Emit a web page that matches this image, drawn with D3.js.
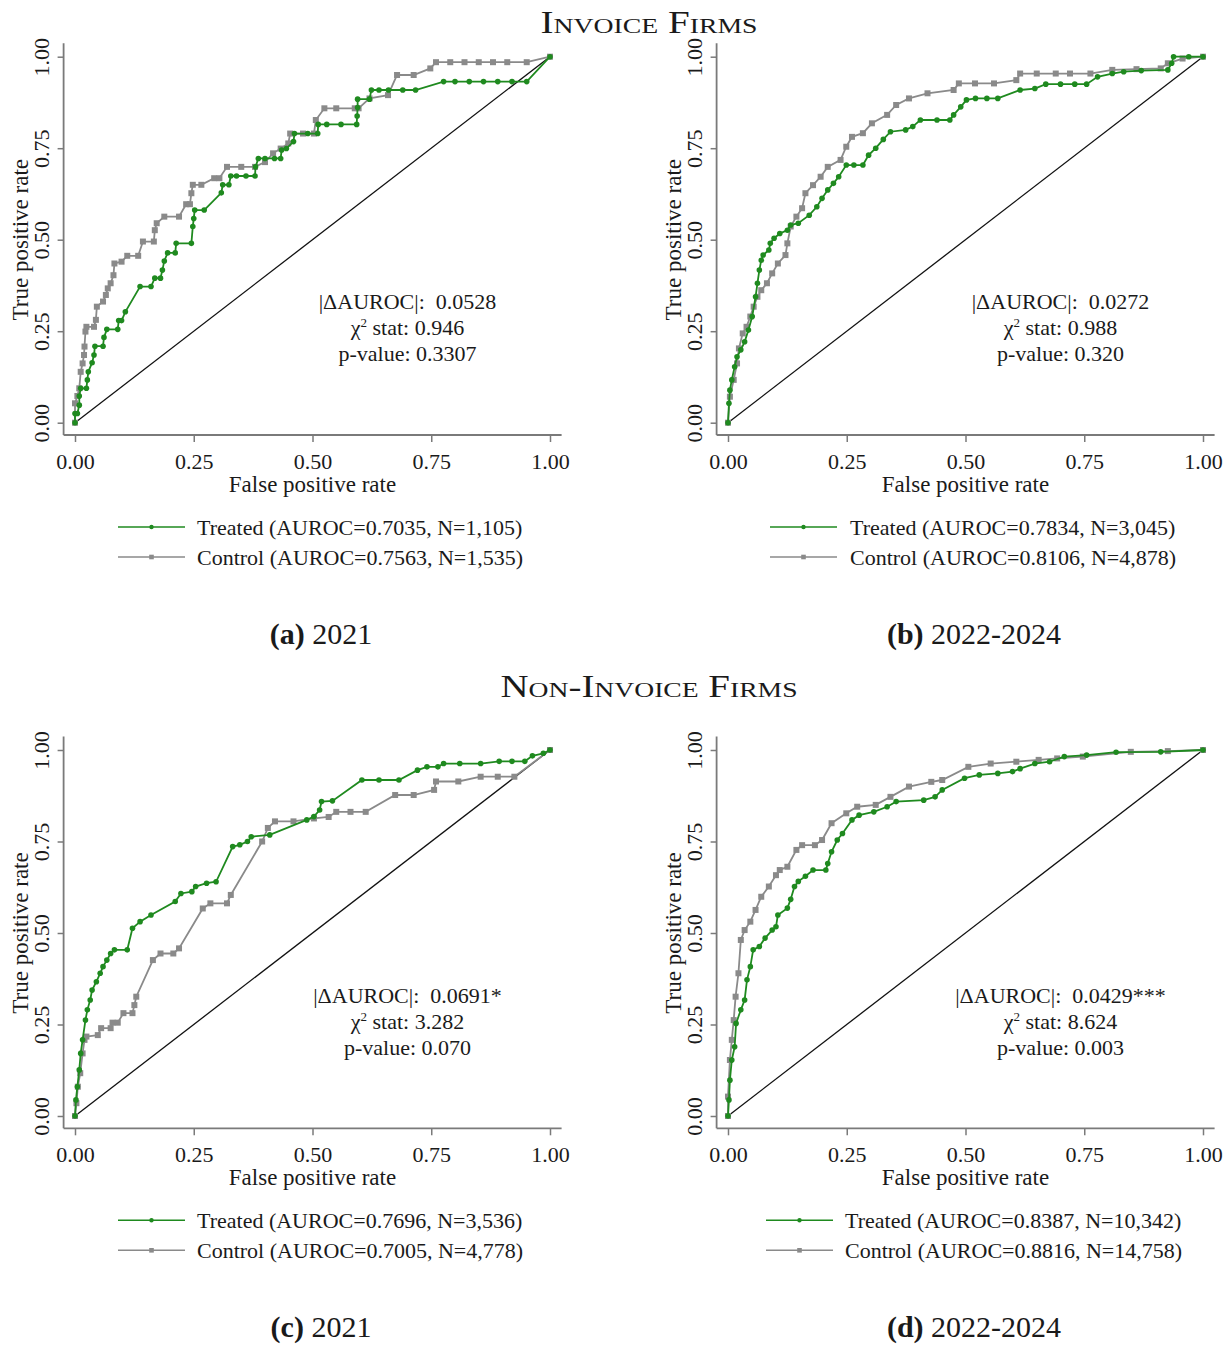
<!DOCTYPE html>
<html><head><meta charset="utf-8">
<script src="https://cdn.jsdelivr.net/npm/d3@7"></script>
<style>
body{margin:0;background:#fff}
text{font-family:"Liberation Serif","Times New Roman",serif;fill:#1a1a1a}
</style>
</head><body>
<svg id="chart" width="1231" height="1346"></svg>
<script>
// ---------- DATA ----------
const sectionTitles = ["Invoice Firms", "Non-Invoice Firms"];
const captionLetters = ["(a)", "(b)", "(c)", "(d)"];
const captionYears = ["2021", "2022-2024", "2021", "2022-2024"];
const tickValues = [0, 0.25, 0.5, 0.75, 1];
const tickLabels = ["0.00", "0.25", "0.50", "0.75", "1.00"];
const xTitle = "False positive rate";
const yTitle = "True positive rate";
const deltaAuroc = ["0.0528", "0.0272", "0.0691*", "0.0429***"];
const chi2Stat = ["0.946", "0.988", "3.282", "8.624"];
const pValues = ["0.3307", "0.320", "0.070", "0.003"];
const treatedLegend = ["Treated (AUROC=0.7035, N=1,105)", "Treated (AUROC=0.7834, N=3,045)",
                       "Treated (AUROC=0.7696, N=3,536)", "Treated (AUROC=0.8387, N=10,342)"];
const controlLegend = ["Control (AUROC=0.7563, N=1,535)", "Control (AUROC=0.8106, N=4,878)",
                       "Control (AUROC=0.7005, N=4,778)", "Control (AUROC=0.8816, N=14,758)"];

// ROC points [false positive rate, true positive rate]
const treatedA = [[0,0],[0,.025],[.005,.025],[.009,.048],[.009,.073],[.012,.094],[.024,.094],[.026,.117],[.028,.139],[.036,.164],[.04,.185],[.042,.209],[.059,.209],[.061,.233],[.067,.255],[.09,.255],[.092,.279],[.098,.279],[.106,.303],[.137,.372],[.16,.372],[.168,.395],[.18,.395],[.184,.417],[.188,.442],[.195,.464],[.211,.464],[.213,.49],[.245,.49],[.248,.536],[.25,.558],[.252,.581],[.272,.581],[.308,.628],[.311,.65],[.324,.65],[.328,.674],[.34,.674],[.36,.674],[.379,.674],[.38,.699],[.386,.722],[.40,.722],[.42,.722],[.433,.722],[.435,.745],[.445,.749],[.46,.768],[.462,.79],[.49,.79],[.511,.79],[.512,.815],[.53,.815],[.56,.815],[.593,.815],[.594,.838],[.595,.861],[.595,.884],[.62,.884],[.624,.909],[.64,.909],[.66,.909],[.69,.909],[.717,.909],[.776,.932],[.80,.932],[.83,.932],[.86,.932],[.89,.932],[.92,.932],[.951,.932],[1,1]];
const controlA = [[0,0],[0,.053],[.005,.073],[.009,.094],[.012,.139],[.016,.162],[.019,.185],[.02,.208],[.022,.249],[.024,.262],[.04,.262],[.044,.281],[.046,.317],[.059,.331],[.065,.349],[.069,.367],[.075,.381],[.081,.403],[.083,.435],[.098,.44],[.11,.456],[.133,.456],[.143,.495],[.166,.495],[.168,.526],[.172,.545],[.188,.563],[.219,.563],[.234,.597],[.242,.597],[.245,.627],[.248,.65],[.266,.65],[.293,.668],[.304,.668],[.32,.699],[.35,.699],[.379,.699],[.40,.712],[.417,.736],[.433,.749],[.449,.763],[.453,.79],[.48,.79],[.503,.79],[.507,.827],[.525,.859],[.55,.859],[.589,.859],[.597,.859],[.62,.886],[.659,.895],[.678,.95],[.713,.95],[.748,.968],[.76,.985],[.79,.985],[.82,.985],[.85,.985],[.88,.985],[.91,.985],[.951,.985],[1,1]];

const treatedB = [[0,0],[.002,.053],[.004,.089],[.008,.117],[.014,.153],[.019,.18],[.027,.199],[.035,.221],[.043,.253],[.051,.29],[.058,.344],[.062,.381],[.066,.417],[.07,.444],[.074,.458],[.086,.472],[.089,.49],[.097,.504],[.109,.517],[.125,.526],[.132,.54],[.148,.545],[.171,.567],[.187,.59],[.198,.613],[.21,.636],[.222,.654],[.233,.672],[.249,.704],[.265,.704],[.284,.704],[.296,.731],[.311,.75],[.327,.774],[.342,.795],[.374,.8],[.389,.809],[.405,.827],[.44,.827],[.467,.827],[.475,.841],[.49,.863],[.502,.882],[.521,.886],[.545,.886],[.568,.886],[.615,.909],[.646,.913],[.669,.925],[.70,.925],[.73,.925],[.755,.925],[.778,.945],[.809,.954],[.833,.959],[.87,.962],[.926,.964],[.934,.982],[.938,1],[.97,1],[1,1]];
const controlB = [[0,0],[.004,.071],[.012,.117],[.019,.162],[.023,.203],[.031,.244],[.039,.262],[.047,.29],[.054,.317],[.062,.344],[.07,.362],[.082,.381],[.093,.408],[.105,.435],[.121,.458],[.125,.49],[.132,.536],[.144,.563],[.156,.586],[.163,.627],[.179,.649],[.195,.672],[.21,.699],[.237,.718],[.249,.754],[.261,.781],[.284,.791],[.303,.818],[.335,.841],[.354,.868],[.381,.886],[.42,.9],[.475,.909],[.486,.927],[.52,.927],[.56,.927],[.607,.936],[.615,.954],[.65,.954],[.69,.954],[.72,.954],[.763,.954],[.809,.964],[.86,.966],[.911,.968],[.926,.982],[.957,.995],[1,1]];

const treatedC = [[0,0],[.002,.044],[.005,.08],[.009,.126],[.012,.171],[.016,.208],[.022,.262],[.026,.29],[.032,.317],[.036,.344],[.045,.367],[.053,.39],[.059,.408],[.067,.426],[.075,.444],[.083,.454],[.11,.454],[.121,.513],[.137,.531],[.16,.549],[.211,.586],[.223,.608],[.246,.613],[.254,.627],[.277,.636],[.297,.64],[.332,.736],[.347,.741],[.363,.75],[.371,.763],[.41,.768],[.488,.809],[.503,.818],[.515,.836],[.519,.859],[.542,.861],[.604,.918],[.64,.918],[.682,.918],[.721,.945],[.741,.954],[.764,.954],[.776,.963],[.81,.963],[.854,.963],[.893,.969],[.92,.969],[.947,.969],[.963,.984],[.986,.991],[1,1]];
const controlC = [[0,0],[.003,.035],[.006,.08],[.011,.117],[.016,.171],[.02,.208],[.024,.217],[.048,.221],[.055,.24],[.075,.24],[.079,.255],[.09,.255],[.102,.281],[.121,.281],[.125,.303],[.129,.326],[.164,.426],[.18,.444],[.207,.444],[.219,.458],[.269,.567],[.285,.581],[.32,.581],[.328,.604],[.394,.75],[.406,.787],[.421,.805],[.46,.805],[.503,.813],[.534,.817],[.55,.831],[.58,.831],[.612,.831],[.674,.877],[.713,.877],[.756,.891],[.76,.914],[.807,.914],[.854,.927],[.89,.927],[.925,.927],[1,1]];

const treatedD = [[0,0],[.002,.044],[.004,.098],[.008,.153],[.014,.189],[.017,.253],[.027,.29],[.035,.317],[.04,.372],[.047,.408],[.053,.454],[.066,.463],[.078,.486],[.093,.508],[.101,.517],[.105,.549],[.125,.568],[.132,.592],[.14,.627],[.148,.641],[.163,.655],[.179,.672],[.206,.672],[.21,.69],[.218,.722],[.23,.754],[.241,.772],[.261,.809],[.276,.822],[.307,.831],[.335,.845],[.354,.859],[.412,.863],[.436,.872],[.451,.891],[.498,.923],[.529,.932],[.568,.936],[.599,.941],[.615,.949],[.646,.963],[.677,.968],[.708,.982],[.755,.986],[.817,.994],[.911,.995],[1,1]];
const controlD = [[0,0],[0,.053],[.004,.153],[.008,.208],[.012,.262],[.016,.326],[.022,.39],[.027,.481],[.035,.508],[.047,.531],[.058,.563],[.07,.599],[.086,.627],[.101,.658],[.109,.672],[.125,.681],[.144,.727],[.156,.74],[.183,.74],[.198,.754],[.218,.8],[.249,.827],[.272,.845],[.311,.85],[.342,.872],[.381,.9],[.428,.913],[.451,.918],[.506,.954],[.553,.963],[.607,.968],[.654,.973],[.693,.977],[.747,.982],[.848,.995],[.926,.997],[1,1]];

const treatedSeries = [treatedA, treatedB, treatedC, treatedD];
const controlSeries = [controlA, controlB, controlC, controlD];

// ---------- LAYOUT / STYLE ----------
const GREEN = "#1f8a1f", GRAY = "#8a8a8a", AXIS = "#7a7a7a";
const colX = [75, 728];
const rowY = [{top: 56.7, bottom: 422.7}, {top: 750, bottom: 1116}];
const plotW = 475;
const legendLayout = [
  {lx1: 118, lx2: 185, tx: 197}, {lx1: 770, lx2: 837, tx: 850},
  {lx1: 118, lx2: 185, tx: 197}, {lx1: 766, lx2: 833, tx: 845}];
const captionX = [321, 974];

const svg = d3.select("#chart");

// section titles
[33, 697].forEach((yy, i) => {
  svg.append("text").attr("x", 649).attr("y", yy)
    .attr("text-anchor", "middle")
    .style("font-variant", "small-caps")
    .style("font-size", "31px")
    .attr("textLength", i === 0 ? 217 : 297)
    .attr("lengthAdjust", "spacingAndGlyphs")
    .text(sectionTitles[i]);
});

for (let p = 0; p < 4; p++) {
  const col = p % 2, row = Math.floor(p / 2);
  const x0 = colX[col], yt = rowY[row].top, yb = rowY[row].bottom;
  const x = d3.scaleLinear().domain([0, 1]).range([x0, x0 + plotW]);
  const y = d3.scaleLinear().domain([0, 1]).range([yb, yt]);
  const g = svg.append("g");
  const axX = x0 - 11.4, axY = yb + 12.3;

  // axis frame
  g.append("line").attr("x1", axX).attr("x2", axX).attr("y1", yt - 13.4).attr("y2", axY)
    .attr("stroke", AXIS).attr("stroke-width", 1.8);
  g.append("line").attr("x1", axX).attr("x2", x0 + plotW + 11.6).attr("y1", axY).attr("y2", axY)
    .attr("stroke", AXIS).attr("stroke-width", 1.8);

  const xa = g.append("g").attr("transform", `translate(0,${axY})`)
    .call(d3.axisBottom(x).tickValues(tickValues).tickFormat((d, i) => tickLabels[i]).tickSize(7));
  xa.select(".domain").remove();
  xa.selectAll("line").attr("stroke", AXIS).attr("stroke-width", 1.5);
  xa.selectAll("text").attr("y", 34).attr("dy", 0).style("font-size", "22px")
    .attr("fill", "#1a1a1a").style("font-family", '"Liberation Serif",serif');

  const ya = g.append("g").attr("transform", `translate(${axX},0)`)
    .call(d3.axisLeft(y).tickValues(tickValues).tickFormat((d, i) => tickLabels[i]).tickSize(6));
  ya.select(".domain").remove();
  ya.selectAll("line").attr("stroke", AXIS).attr("stroke-width", 1.5);
  ya.selectAll("text").attr("x", 0).attr("y", 0).attr("dy", 0)
    .attr("transform", "translate(-14.2,0) rotate(-90)")
    .attr("text-anchor", "middle").style("font-size", "22px")
    .attr("fill", "#1a1a1a").style("font-family", '"Liberation Serif",serif');

  // axis titles
  g.append("text").attr("x", (x(0) + x(1)) / 2).attr("y", axY + 57)
    .attr("text-anchor", "middle").style("font-size", "23px").text(xTitle);
  g.append("text").attr("transform", `translate(${axX - 35.5},${(yt + yb) / 2}) rotate(-90)`)
    .attr("text-anchor", "middle").style("font-size", "23px").text(yTitle);

  // diagonal reference
  g.append("line").attr("x1", x(0)).attr("y1", y(0)).attr("x2", x(1)).attr("y2", y(1))
    .attr("stroke", "#111").attr("stroke-width", 1.3);

  const line = d3.line().x(d => x(d[0])).y(d => y(d[1]));
  // control (gray squares)
  g.append("path").datum(controlSeries[p]).attr("d", line)
    .attr("fill", "none").attr("stroke", GRAY).attr("stroke-width", 1.8);
  g.selectAll(".sq").data(controlSeries[p]).enter().append("rect")
    .attr("x", d => x(d[0]) - 3).attr("y", d => y(d[1]) - 3)
    .attr("width", 6).attr("height", 6).attr("fill", GRAY);
  // treated (green circles)
  g.append("path").datum(treatedSeries[p]).attr("d", line)
    .attr("fill", "none").attr("stroke", GREEN).attr("stroke-width", 1.8);
  g.selectAll(".ci").data(treatedSeries[p]).enter().append("circle")
    .attr("cx", d => x(d[0])).attr("cy", d => y(d[1])).attr("r", 2.8).attr("fill", GREEN);

  // annotation
  const ax = x(0.70);
  const ay = yb - 113.5;
  const t1 = g.append("text").attr("x", ax).attr("y", ay).attr("text-anchor", "middle").style("font-size", "22px");
  t1.text("|\u0394AUROC|:\u00a0\u00a0" + deltaAuroc[p]);
  const t2 = g.append("text").attr("x", ax).attr("y", ay + 26).attr("text-anchor", "middle").style("font-size", "22px");
  t2.append("tspan").text("\u03c7");
  t2.append("tspan").attr("dy", -8).style("font-size", "13px").text("2");
  t2.append("tspan").attr("dy", 8).text(" stat: " + chi2Stat[p]);
  g.append("text").attr("x", ax).attr("y", ay + 52).attr("text-anchor", "middle").style("font-size", "22px")
    .text("p-value: " + pValues[p]);

  // legend
  const L = legendLayout[p];
  const ly1 = axY + 92, ly2 = axY + 122;
  g.append("line").attr("x1", L.lx1).attr("x2", L.lx2).attr("y1", ly1).attr("y2", ly1)
    .attr("stroke", GREEN).attr("stroke-width", 1.6);
  g.append("circle").attr("cx", (L.lx1 + L.lx2) / 2).attr("cy", ly1).attr("r", 2.2).attr("fill", GREEN);
  g.append("text").attr("x", L.tx).attr("y", ly1 + 8).style("font-size", "22px").text(treatedLegend[p]);
  g.append("line").attr("x1", L.lx1).attr("x2", L.lx2).attr("y1", ly2).attr("y2", ly2)
    .attr("stroke", GRAY).attr("stroke-width", 1.6);
  g.append("rect").attr("x", (L.lx1 + L.lx2) / 2 - 2.3).attr("y", ly2 - 2.3).attr("width", 4.6).attr("height", 4.6).attr("fill", GRAY);
  g.append("text").attr("x", L.tx).attr("y", ly2 + 8).style("font-size", "22px").text(controlLegend[p]);

  // caption
  const cap = g.append("text").attr("x", captionX[col]).attr("y", axY + 209)
    .attr("text-anchor", "middle").style("font-size", "30px");
  cap.append("tspan").style("font-weight", "bold").text(captionLetters[p]);
  cap.append("tspan").text("\u00a0" + captionYears[p]);
}
</script>
</body></html>
